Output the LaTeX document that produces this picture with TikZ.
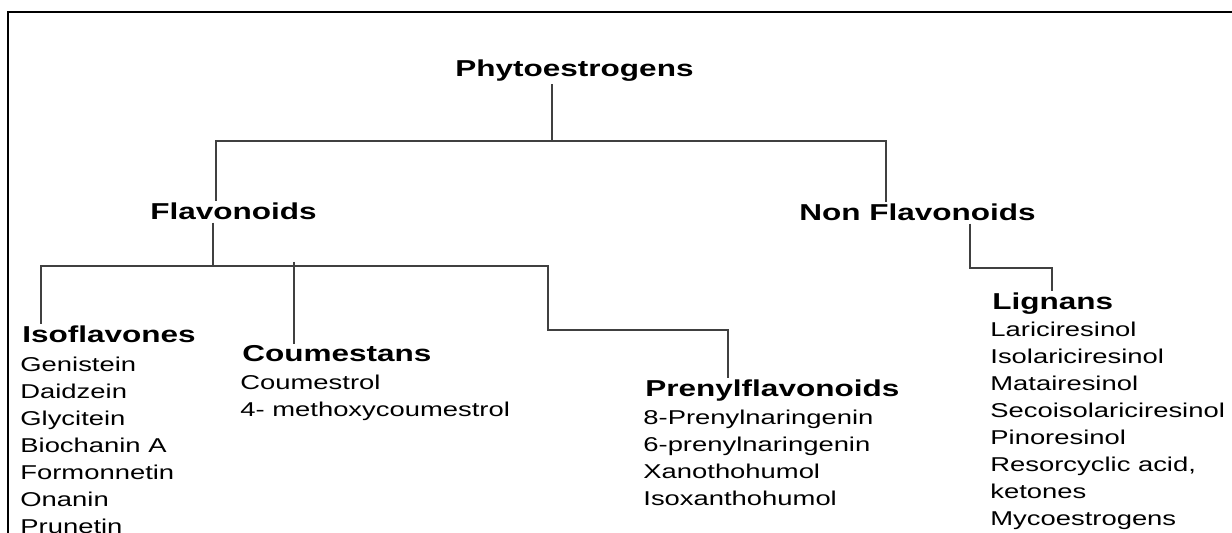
\documentclass[tikz,border=0pt]{standalone}
\usepackage{fontspec}
\setmainfont{Liberation Sans}[FakeStretch=1.37]
\tikzset{
  head/.style={font=\fontsize{11.5}{13}\selectfont\bfseries, inner sep=1pt, anchor=base west},
  item/.style={font=\fontsize{10}{12}\selectfont, inner sep=0pt, anchor=base west},
  link/.style={draw=black!75, line width=0.6pt}
}
\begin{document}
\begin{tikzpicture}[x=0.5pt,y=-0.5pt]
\useasboundingbox (0,0) rectangle (1232,533);
\draw[line width=0.75pt] (8,540) -- (8,12) -- (1240,12);

% headings
\node[head] (phyto) at (453,77) {Phytoestrogens};
\node[head] (flav) at (148,220) {Flavonoids};
\node[head] (nonflav) at (797,221) {Non Flavonoids};
\node[head] (iso) at (20,343) {Isoflavones};
\node[head] (coum) at (240,362) {Coumestans};
\node[head] (prenyl) at (643,397) {Prenylflavonoids};
\node[head] (lign) at (990,310) {Lignans};

% lists
\foreach \t [count=\i] in {Genistein,Daidzein,Glycitein,Biochanin A,Formonnetin,Onanin,Prunetin}
  \node[item] (iso-\i) at (20,{345+27*\i}) {\t};
\foreach \t [count=\i] in {Coumestrol,4- methoxycoumestrol}
  \node[item] (coum-\i) at (240,{363+27*\i}) {\t};
\foreach \t [count=\i] in {8-Prenylnaringenin,6-prenylnaringenin,Xanothohumol,Isoxanthohumol}
  \node[item] (prenyl-\i) at (643,{398+27*\i}) {\t};
\foreach \t [count=\i] in {Lariciresinol,Isolariciresinol,Matairesinol,Secoisolariciresinol,Pinoresinol,{Resorcyclic acid,},ketones,Mycoestrogens}
  \node[item] (lign-\i) at (990,{310+27*\i}) {\t};

% connectors
\coordinate (p0) at (552,141);
\coordinate (b1) at (216,141);
\coordinate (b2) at (886,141);
\draw[link] (phyto.south -| p0) -- (p0);
\draw[link] (flav.north -| b1) -- (b1) -- (b2) -- (nonflav.north -| b2);

\coordinate (f0) at (213,266);
\coordinate (f1) at (41,266);
\coordinate (f2) at (294,262);
\coordinate (f3) at (548,266);
\coordinate (f4) at (728,330);
\draw[link] (flav.south -| f0) -- (f0);
\draw[link] (iso.north -| f1) -- (f1) -- (f3) |- (f4) -- (prenyl.north -| f4);
\draw[link] (f2) -- (coum.north -| f2);

\coordinate (n1) at (970,268);
\coordinate (n2) at (1052,268);
\draw[link] (nonflav.south -| n1) -- (n1) -- (n2) -- (lign.north -| n2);
\end{tikzpicture}
\end{document}
